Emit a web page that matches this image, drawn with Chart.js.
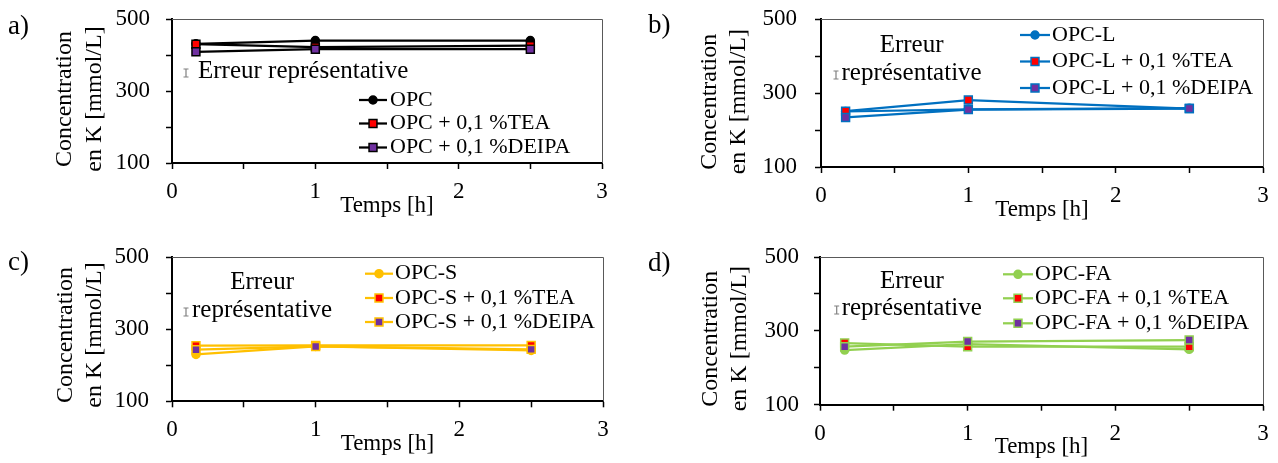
<!DOCTYPE html>
<html>
<head>
<meta charset="utf-8">
<script src="https://cdn.jsdelivr.net/npm/chart.js@4/dist/chart.umd.min.js"></script>
<style>
html, body { margin: 0; padding: 0; background: #fff; }
body { width: 1278px; height: 463px; position: relative; overflow: hidden; }
.panel { position: absolute; }
canvas { display: block; }
</style>
</head>
<body>
<div class="panel" style="left:0;top:0;width:640px;height:232px"><canvas id="ca" width="640" height="232"></canvas></div>
<div class="panel" style="left:640px;top:0;width:638px;height:232px"><canvas id="cb" width="638" height="232"></canvas></div>
<div class="panel" style="left:0;top:232px;width:640px;height:231px"><canvas id="cc" width="640" height="231"></canvas></div>
<div class="panel" style="left:640px;top:232px;width:638px;height:231px"><canvas id="cd" width="638" height="231"></canvas></div>
<script>
// ---------- data ----------
const timeH = [0.167, 1, 2.5];
const xTickLabels = [0, 1, 2, 3];
const yTickLabels = [100, 300, 500];
const xTitle = 'Temps [h]';
const yTitleLines = ['Concentration', 'en K [mmol/L]'];
const errorLabel = ['Erreur', 'représentative'];

const namesA = ['OPC', 'OPC + 0,1 %TEA', 'OPC + 0,1 %DEIPA'];
const opcA = [431, 440, 440];
const opcTeaA = [430, 422, 426];
const opcDeipaA = [409, 416, 416];

const namesB = ['OPC-L', 'OPC-L + 0,1 %TEA', 'OPC-L + 0,1 %DEIPA'];
const opcB = [250, 256, 259];
const opcTeaB = [251, 281, 258];
const opcDeipaB = [234, 255, 258];

const namesC = ['OPC-S', 'OPC-S + 0,1 %TEA', 'OPC-S + 0,1 %DEIPA'];
const opcC = [230, 252, 241];
const opcTeaC = [254, 255, 255];
const opcDeipaC = [243, 252, 244];

const namesD = ['OPC-FA', 'OPC-FA + 0,1 %TEA', 'OPC-FA + 0,1 %DEIPA'];
const opcD = [248, 264, 250];
const opcTeaD = [267, 257, 257];
const opcDeipaD = [257, 271, 275];

// ---------- styles ----------
const FONT = "'Liberation Serif', 'Times New Roman', serif";
const RED = '#FF0000';
const PURPLE = '#7030A0';

const decoPlugin = {
  id: 'deco',
  afterDraw(chart, args, o) {
    const ctx = chart.ctx;
    const ca = chart.chartArea;
    ctx.save();
    // plot-area frame (top / right)
    ctx.strokeStyle = '#595959';
    ctx.lineWidth = 1;
    ctx.beginPath();
    ctx.moveTo(ca.left, Math.round(ca.top) + 0.5);
    ctx.lineTo(Math.round(ca.right) + 0.5, Math.round(ca.top) + 0.5);
    ctx.lineTo(Math.round(ca.right) + 0.5, ca.bottom);
    ctx.stroke();

    // panel letter
    ctx.fillStyle = '#000';
    ctx.font = '27px ' + FONT;
    ctx.textAlign = 'left';
    ctx.textBaseline = 'alphabetic';
    ctx.fillText(o.letter, o.letterX, o.letterY);

    // y title (two rotated lines)
    ctx.font = '24px ' + FONT;
    ctx.textAlign = 'center';
    ctx.textBaseline = 'middle';
    yTitleLines.forEach((t, i) => {
      ctx.save();
      ctx.translate(o.yTitleX[i], o.yTitleCY);
      ctx.rotate(-Math.PI / 2);
      ctx.fillText(t, 0, 0);
      ctx.restore();
    });

    // representative error
    const e = o.err;
    ctx.strokeStyle = '#808080';
    ctx.lineWidth = 1.2;
    const ix = e.iconX, iy = e.iconY, h = 4;
    ctx.beginPath();
    ctx.moveTo(ix, iy - h); ctx.lineTo(ix, iy + h);
    ctx.moveTo(ix - 2.5, iy - h); ctx.lineTo(ix + 2.5, iy - h);
    ctx.moveTo(ix - 2.5, iy + h); ctx.lineTo(ix + 2.5, iy + h);
    ctx.stroke();
    ctx.fillStyle = '#000';
    ctx.font = '25px ' + FONT;
    ctx.textAlign = 'left';
    ctx.textBaseline = 'middle';
    if (e.single) {
      ctx.fillText(errorLabel.join(' '), e.textX, e.textY);
    } else {
      ctx.fillText(errorLabel[1], e.textX, e.textY);
      const w = ctx.measureText(errorLabel[1]).width;
      ctx.textAlign = 'center';
      ctx.fillText(errorLabel[0], e.textX + w / 2, e.textY - e.gap);
    }

    // legend
    const lg = o.legend;
    ctx.font = '22px ' + FONT;
    ctx.textAlign = 'left';
    ctx.textBaseline = 'middle';
    chart.data.datasets.forEach((ds, i) => {
      const y = lg.rows[i];
      ctx.strokeStyle = ds.borderColor;
      ctx.lineWidth = ds.borderWidth;
      ctx.beginPath();
      ctx.moveTo(lg.x0, y);
      ctx.lineTo(lg.x1, y);
      ctx.stroke();
      ctx.fillStyle = ds.pointBackgroundColor;
      ctx.strokeStyle = ds.pointBorderColor;
      ctx.lineWidth = ds.pointBorderWidth;
      Chart.helpers.drawPoint(ctx, { pointStyle: ds.pointStyle, radius: ds.pointRadius, borderWidth: ds.pointBorderWidth, rotation: 0 }, (lg.x0 + lg.x1) / 2, y);
      ctx.fillStyle = '#000';
      ctx.fillText(ds.label, lg.tx, y);
    });
    ctx.restore();
  }
};

function series(name, values, lineColor, fill, style, order) {
  return {
    label: name,
    data: timeH.map((t, i) => ({ x: t, y: values[i] })),
    borderColor: lineColor,
    borderWidth: 2.25,
    pointStyle: style,
    pointRadius: style === 'circle' ? 4 : 5.6,
    pointBackgroundColor: fill,
    pointBorderColor: lineColor,
    pointBorderWidth: 1.5,
    tension: 0,
    order: order
  };
}

function makeChart(id, geo, names, vals, color, deco) {
  const datasets = [
    series(names[0], vals[0], color, color, 'circle', 2),
    series(names[1], vals[1], color, RED, 'rect', 1),
    series(names[2], vals[2], color, PURPLE, 'rect', 0)
  ];
  const titleBottomPad = geo.H - (geo.B + 42.5) - 13.8;
  new Chart(document.getElementById(id), {
    type: 'line',
    data: { datasets },
    options: {
      responsive: false,
      animation: false,
      devicePixelRatio: 1,
      layout: { padding: { left: 0, top: geo.T, right: geo.W - geo.R, bottom: 0 } },
      plugins: { legend: { display: false }, tooltip: { enabled: false }, deco },
      scales: {
        x: {
          type: 'linear', min: 0, max: 3,
          ticks: {
            stepSize: 0.5, autoSkip: false, maxRotation: 0, minRotation: 0, padding: 9,
            color: '#000', font: { family: FONT, size: 23 },
            callback: v => xTickLabels.includes(v) ? String(v) : ''
          },
          grid: { drawOnChartArea: false, drawTicks: true, tickLength: 6, tickColor: '#000', tickWidth: 1.5 },
          border: { display: true, color: '#000', width: 2 },
          title: { display: true, text: xTitle, color: '#000', font: { family: FONT, size: 23 }, padding: { top: 0, bottom: titleBottomPad } },
          afterFit: s => { s.height = geo.H - geo.B; s.paddingLeft = 0; s.paddingRight = 0; }
        },
        y: {
          type: 'linear', min: 100, max: 500,
          ticks: {
            stepSize: 100, autoSkip: false, padding: geo.yPad,
            color: '#000', font: { family: FONT, size: 23 },
            callback: v => yTickLabels.includes(v) ? String(v) : ''
          },
          grid: { drawOnChartArea: false, drawTicks: true, tickLength: 6, tickColor: '#000', tickWidth: 1.5 },
          border: { display: true, color: '#000', width: 2 },
          afterFit: s => { s.width = geo.L; s.paddingTop = 0; s.paddingBottom = 0; }
        }
      }
    },
    plugins: [decoPlugin]
  });
}

makeChart('ca', { W: 640, H: 232, L: 172, R: 602, T: 19, B: 163, yPad: 16 },
  namesA, [opcA, opcTeaA, opcDeipaA], '#000000', {
    letter: 'a)', letterX: 8, letterY: 34,
    yTitleX: [65, 94.5], yTitleCY: 99,
    err: { single: true, iconX: 186, iconY: 73, textX: 198, textY: 71 },
    legend: { x0: 359, x1: 387, tx: 390, rows: [100, 123.5, 147.5] }
  });

makeChart('cb', { W: 638, H: 232, L: 181, R: 623, T: 19, B: 167, yPad: 18 },
  namesB, [opcB, opcTeaB, opcDeipaB], '#0070C0', {
    letter: 'b)', letterX: 8, letterY: 33,
    yTitleX: [70, 99], yTitleCY: 101.7,
    err: { single: false, iconX: 196, iconY: 75, textX: 201.5, textY: 73, gap: 28 },
    legend: { x0: 380, x1: 410, tx: 412, rows: [35, 61.5, 88] }
  });

makeChart('cc', { W: 640, H: 231, L: 172, R: 603, T: 25, B: 169.3, yPad: 17 },
  namesC, [opcC, opcTeaC, opcDeipaC], '#FFC000', {
    letter: 'c)', letterX: 8, letterY: 38,
    yTitleX: [66, 95], yTitleCY: 103,
    err: { single: false, iconX: 186, iconY: 80, textX: 192, textY: 78.5, gap: 28 },
    legend: { x0: 365, x1: 393, tx: 395, rows: [41.7, 66, 90] }
  });

makeChart('cd', { W: 638, H: 231, L: 180, R: 623, T: 25, B: 172.7, yPad: 15 },
  namesD, [opcD, opcTeaD, opcDeipaD], '#92D050', {
    letter: 'd)', letterX: 8, letterY: 39,
    yTitleX: [71, 100], yTitleCY: 106.7,
    err: { single: false, iconX: 196.7, iconY: 78, textX: 201.7, textY: 76.5, gap: 27 },
    legend: { x0: 363, x1: 393, tx: 395, rows: [42.3, 66.3, 91.3] }
  });
</script>
</body>
</html>
